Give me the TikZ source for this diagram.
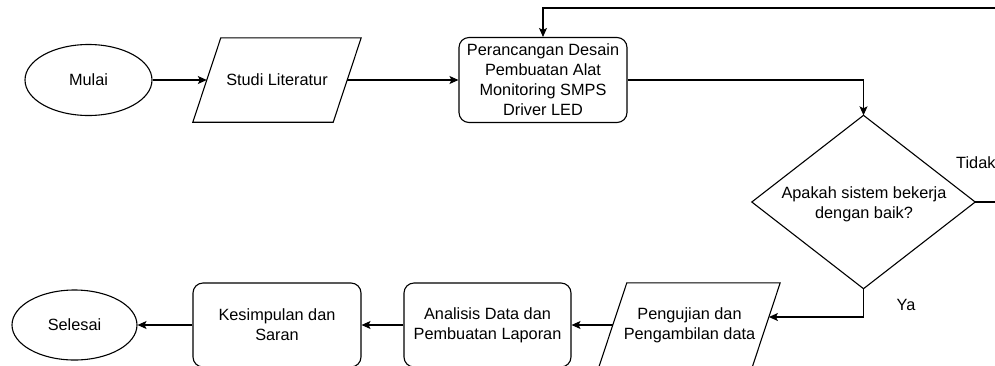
\documentclass[tikz,border=0pt]{standalone}
\usepackage{fontspec}
\setmainfont{Liberation Sans}
\usetikzlibrary{arrows.meta,calc,shapes.geometric}
\begin{document}
\begin{tikzpicture}[x=1pt,y=-1pt,
  every node/.style={font=\fontsize{16.3}{20}\selectfont, align=center, inner sep=0pt},
  ln/.style={line width=1.1pt, draw=black},
  arr/.style={ln, -{Stealth[length=9pt,width=8pt,inset=2pt]}},
  term/.style={draw, ellipse, line width=1.1pt},
  proc/.style={draw, rounded corners=10pt, line width=1.1pt},
  body/.style={draw=none}
]
\clip (0,0) rectangle (995,365);
\useasboundingbox (0,0) rectangle (995,365);

\node[term, minimum width=127pt, minimum height=71pt] (mulai) at (88.5,80) {Mulai};
\node[body, minimum width=140pt, minimum height=84pt] (st) at (277,80) {Studi Literatur};
\draw[ln] ([xshift=-14pt]st.south west) -- ([xshift=14pt]st.north west) -- ([xshift=14pt]st.north east) -- ([xshift=-14pt]st.south east) -- cycle;
\node[proc, minimum width=168pt, minimum height=85pt] (pr) at (543,80) {Perancangan Desain\\Pembuatan Alat\\Monitoring SMPS\\Driver LED};
\node[body, minimum width=223pt, minimum height=173pt] (dia) at (863.5,202) {};
\draw[ln] (dia.north) -- (dia.east) -- (dia.south) -- (dia.west) -- cycle;
\node at (864,204) {Apakah sistem bekerja\\dengan baik?};
\node[body, minimum width=153pt, minimum height=84pt] (pg) at (689.5,325) {Pengujian dan\\Pengambilan data};
\draw[ln] ([xshift=-14pt]pg.south west) -- ([xshift=14pt]pg.north west) -- ([xshift=14pt]pg.north east) -- ([xshift=-14pt]pg.south east) -- cycle;
\node[proc, minimum width=167pt, minimum height=84pt] (an) at (487.5,325) {Analisis Data dan\\Pembuatan Laporan};
\node[proc, minimum width=168pt, minimum height=84pt] (ks) at (277,325) {Kesimpulan dan\\Saran};
\node[term, minimum width=125pt, minimum height=70pt] (sl) at (74.5,325) {Selesai};

\coordinate (r1) at (1010,202);
\coordinate (r2) at (1010,8);

\draw[arr] (mulai) -- (st.west);
\draw[arr] (st.east) -- (pr.west);
\draw[arr] (pr.east) -| (dia.north);
\draw[arr] (dia.east) -- (r1) -- (r2) -| (pr.north);
\draw[arr] (dia.south) |- ([shift={(2.7pt,8pt)}]pg.east);
\draw[arr] (pg.west) -- (an.east);
\draw[arr] (an.west) -- (ks.east);
\draw[arr] (ks.west) -- (sl.east);

\node[anchor=west] (tidak) at (956,163) {Tidak};
\node (ya) at (906,305) {Ya};
\end{tikzpicture}
\end{document}
